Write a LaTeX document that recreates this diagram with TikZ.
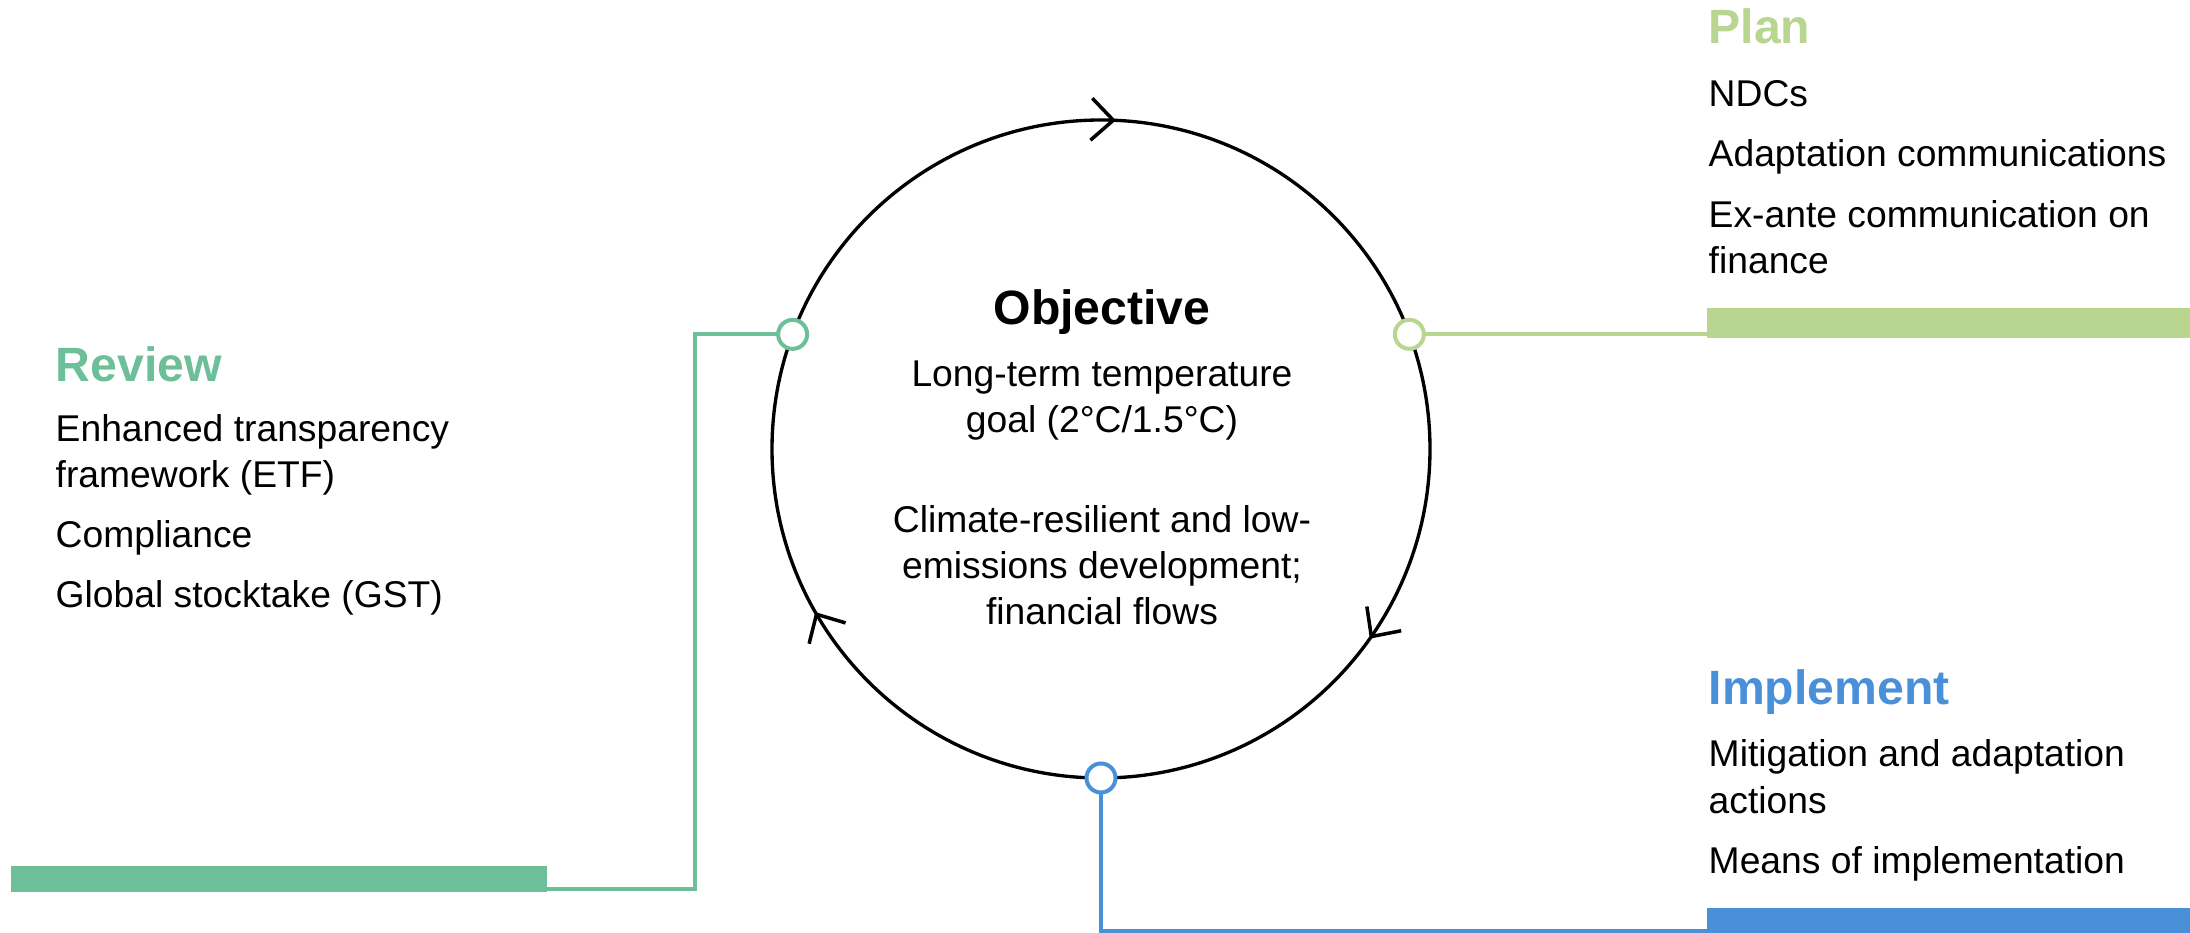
\documentclass[tikz,border=0pt]{standalone}
\usepackage{fontspec}
\setmainfont{Liberation Sans}
\usetikzlibrary{arrows.meta,decorations.markings}
\definecolor{revgreen}{HTML}{6CBF98}
\definecolor{plangreen}{HTML}{B8D68F}
\definecolor{impblue}{HTML}{4A90D9}
\newcommand{\txtfont}{\fontsize{10.6}{13.2}\selectfont}
\newcommand{\hdfont}{\fontsize{13.7}{16}\selectfont\bfseries}
\begin{document}
\begin{tikzpicture}
            \tikzset{
                port/.style={draw, circle, fill=white, line width=1.14pt, minimum size=0.29cm, inner sep=0pt, outer sep=0pt},
                bar/.style={rectangle, inner sep=0pt, outer sep=0pt, anchor=south west},
                link/.style={line width=1.14pt},
                cycbarb/.tip={Straight Barb[length=2.2mm,width=4.2mm]},
                head/.style={anchor=base west, inner sep=0pt, font=\hdfont},
                item/.style={anchor=base west, align=left, inner sep=0pt, font=\txtfont},
                mid/.style={anchor=base, align=center, inner sep=0pt, font=\txtfont}
            }
            \useasboundingbox (0,0) rectangle (21.9,-9.33);
            % the cycle
            \draw node[circle, line width=0.95pt, minimum size=6.58cm, inner sep=0pt, outer sep=0pt] (cyc) at (11.01,-4.49) {};
            \draw[line width=0.95pt, postaction={decorate}, decoration={markings,
                mark=at position 0.2428 with {\pgfsetlinewidth{1pt}\arrowreversed{cycbarb}},
                mark=at position 0.5825 with {\pgfsetlinewidth{1pt}\arrowreversed{cycbarb}},
                mark=at position 0.9022 with {\pgfsetlinewidth{1pt}\arrowreversed{cycbarb}}}]
                (cyc.center) circle (3.29);
            \draw node[port, draw=revgreen] (revport) at ([shift={(159.6:3.29)}]cyc.center) {};
            \draw node[port, draw=plangreen] (planport) at ([shift={(20.4:3.29)}]cyc.center) {};
            \draw node[port, draw=impblue] (impport) at ([shift={(270:3.29)}]cyc.center) {};
            % bars
            \draw node[bar, fill=revgreen, minimum width=5.36cm, minimum height=0.26cm] (revbar) at (0.11,-8.92) {};
            \draw node[bar, fill=plangreen, minimum width=4.83cm, minimum height=0.30cm] (planbar) at (17.07,-3.38) {};
            \draw node[bar, fill=impblue, minimum width=4.83cm, minimum height=0.25cm] (impbar) at (17.07,-9.33) {};
            \coordinate (revx) at (6.95,0);
            \draw[link, revgreen] ([yshift=0.03cm]revbar.south east) -| (revport -| revx) -- (revport);
            \draw[link, plangreen] (planport) -- (planport -| planbar.west);
            \draw[link, impblue] (impport) |- ([yshift=0.02cm]impbar.south west);
            % center text
            \node[mid, font=\hdfont] (objhd) at (11.02,-3.25) {Objective};
            \node[mid] (objgoal) at (11.02,-4.33) {Long-term temperature\\goal (2°C/1.5°C)};
            \node[mid] (objflow) at (11.02,-6.25) {Climate-resilient and low-\\emissions development;\\financial flows};
            % review
            \node[head, revgreen] (revhd) at (0.55,-3.82) {Review};
            \node[item] (etf) at (0.55,-4.88) {Enhanced transparency\\framework (ETF)};
            \node[item] (comp) at (0.55,-5.48) {Compliance};
            \node[item] (gst) at (0.55,-6.08) {Global stocktake (GST)};
            % plan
            \node[head, plangreen] (planhd) at (17.08,-0.44) {Plan};
            \node[item] (ndc) at (17.08,-1.07) {NDCs};
            \node[item] (adcom) at (17.08,-1.67) {Adaptation communications};
            \node[item] (exante) at (17.08,-2.74) {Ex-ante communication on\\finance};
            % implement
            \node[head, impblue] (imphd) at (17.08,-7.05) {Implement};
            \node[item] (mitad) at (17.08,-8.13) {Mitigation and adaptation\\actions};
            \node[item] (moi) at (17.08,-8.73) {Means of implementation};
        \end{tikzpicture}
\end{document}
